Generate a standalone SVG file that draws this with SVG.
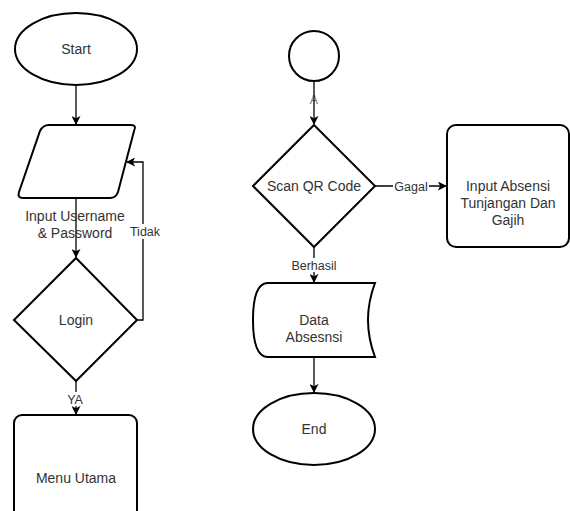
<svg xmlns="http://www.w3.org/2000/svg" width="570" height="511" viewBox="0 0 570 511">
<style>
.s{fill:#fff;stroke:#000;stroke-width:2}
.t{font-family:"Liberation Sans",Arial,sans-serif;font-size:14px;fill:#333;text-anchor:middle}
.l{font-family:"Liberation Sans",Arial,sans-serif;font-size:12.5px;fill:#333;text-anchor:middle}
.c{fill:none;stroke:#000;stroke-width:1.3}
.bg{fill:#fff}
</style>
<defs>
<marker id="a" viewBox="0 0 10 10" refX="9" refY="5" markerWidth="9" markerHeight="9" markerUnits="userSpaceOnUse" orient="auto">
<path d="M0,0 L10,5 L0,10 L2.5,5 Z" fill="#000"/>
</marker>
</defs>
<rect width="570" height="511" fill="#fff"/>
<g id="connectors">
<path class="c" d="M76,85 V124" marker-end="url(#a)"/>
<path class="c" d="M76,198 V257" marker-end="url(#a)"/>
<path class="c" d="M137,320 H143 V162 H127" marker-end="url(#a)"/>
<path class="c" d="M76,380 V414" marker-end="url(#a)"/>
<text class="l" x="314" y="104" style="fill:#777">A</text>
<path class="c" d="M314,81 V124" marker-end="url(#a)"/>
<path class="c" d="M375,186 H446" marker-end="url(#a)"/>
<path class="c" d="M314,247 V282" marker-end="url(#a)"/>
<path class="c" d="M314,357 V392" marker-end="url(#a)"/>
<rect class="bg" x="128" y="224" width="34" height="15"/>
<text class="l" x="145" y="236">Tidak</text>
<rect class="bg" x="64" y="392" width="24" height="14"/>
<text class="l" x="75" y="404">YA</text>
<rect class="bg" x="393" y="179" width="36" height="15"/>
<text class="l" x="411" y="191">Gagal</text>
<rect class="bg" x="290" y="258" width="48" height="14"/>
<text class="l" x="314" y="270">Berhasil</text>
</g>
<g id="start">
<ellipse class="s" cx="76" cy="49" rx="61" ry="36"/>
<text class="t" x="76" y="54">Start</text>
</g>
<g id="input">
<path class="s" d="M49,125 H131 Q137,125 134,131 L118,192 Q116,198 110,198 H23 Q17,198 19,192 L40,131 Q43,125 49,125 Z"/>
<text class="t" x="75" y="221">Input Username</text>
<text class="t" x="75" y="238">&amp; Password</text>
</g>
<g id="login">
<path class="s" d="M76,258 L137,320 L76,381 L14,320 Z"/>
<text class="t" x="76" y="325">Login</text>
</g>
<g id="menu">
<rect class="s" x="14" y="415" width="123" height="110" rx="8"/>
<text class="t" x="76" y="483">Menu Utama</text>
</g>
<g id="connector-a">
<circle class="s" cx="314" cy="56" r="25"/>
</g>
<g id="scan">
<path class="s" d="M314,125 L375,186 L314,247 L253,186 Z"/>
<text class="t" x="314" y="191">Scan QR Code</text>
</g>
<g id="absensi">
<rect class="s" x="447" y="125" width="122" height="122" rx="9"/>
<text class="t" x="508" y="191">Input Absensi</text>
<text class="t" x="508" y="208">Tunjangan Dan</text>
<text class="t" x="508" y="225">Gajih</text>
</g>
<g id="data">
<path class="s" d="M268,283 H375 Q361,320 375,357 H268 Q253,357 253,320 Q253,283 268,283 Z"/>
<text class="t" x="314" y="325">Data</text>
<text class="t" x="314" y="342">Absesnsi</text>
</g>
<g id="end">
<ellipse class="s" cx="314" cy="429" rx="61" ry="36"/>
<text class="t" x="314" y="434">End</text>
</g>
</svg>
